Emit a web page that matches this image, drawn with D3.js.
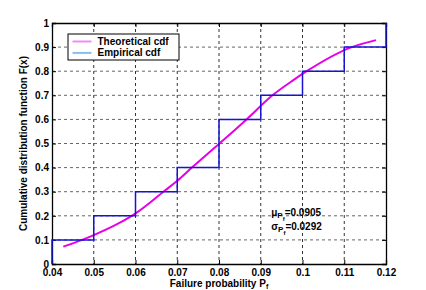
<!DOCTYPE html>
<html>
<head>
<meta charset="utf-8">
<script src="https://cdn.jsdelivr.net/npm/d3@7"></script>
<style>
  body { margin: 0; background: #fff; }
  svg { display: block; font-family: "Liberation Sans", Arial, sans-serif; font-weight: bold; }
  .tick-label { font-size: 10px; fill: #000; }
</style>
</head>
<body>
<svg id="chart" width="426" height="290"></svg>
<script>
// Empirical vs theoretical CDF of the failure probability

const xTicks = [0.04, 0.05, 0.06, 0.07, 0.08, 0.09, 0.1, 0.11, 0.12];
const yTicks = [0, 0.1, 0.2, 0.3, 0.4, 0.5, 0.6, 0.7, 0.8, 0.9, 1];
const xTickLabels = ["0.04", "0.05", "0.06", "0.07", "0.08", "0.09", "0.1", "0.11", "0.12"];
const yTickLabels = ["0", "0.1", "0.2", "0.3", "0.4", "0.5", "0.6", "0.7", "0.8", "0.9", "1"];

// step points (x, F) of empirical cdf, drawn step-after
const empiricalX = [0.04, 0.04, 0.05, 0.06, 0.07, 0.08, 0.09, 0.1, 0.11, 0.12];
const empiricalF = [0, 0.1, 0.2, 0.3, 0.4, 0.6, 0.7, 0.8, 0.9, 1.0];

// theoretical cdf
const theoryX = [0.0427, 0.0472, 0.05, 0.055, 0.0591, 0.06, 0.0667, 0.07, 0.0735, 0.0801, 0.0866, 0.0928, 0.0978, 0.101, 0.1118, 0.1176];
const theoryF = [0.072, 0.100, 0.120, 0.160, 0.200, 0.210, 0.300, 0.345, 0.400, 0.500, 0.600, 0.700, 0.763, 0.800, 0.900, 0.929];

const margin = { left: 52, right: 40, top: 23, bottom: 26 };
const W = 426, H = 290;
const width = W - margin.left - margin.right;
const height = H - margin.top - margin.bottom;

const svg = d3.select("#chart");
const g = svg.append("g").attr("transform", `translate(${margin.left},${margin.top})`);

const x = d3.scaleLinear().domain([0.04, 0.12]).range([0, width]);
const y = d3.scaleLinear().domain([0, 1]).range([height, 0]);

// grid
g.append("g")
  .selectAll("line")
  .data(xTicks.slice(1, -1))
  .join("line")
  .attr("x1", (d) => x(d)).attr("x2", (d) => x(d))
  .attr("y1", 0).attr("y2", height)
  .attr("stroke", "#333").attr("stroke-width", 1)
  .attr("stroke-dasharray", "3,3");
g.append("g")
  .selectAll("line")
  .data(yTicks.slice(1, -1))
  .join("line")
  .attr("y1", (d) => y(d)).attr("y2", (d) => y(d))
  .attr("x1", 0).attr("x2", width)
  .attr("stroke", "#666").attr("stroke-width", 1)
  .attr("stroke-dasharray", "3,3");

// axes with inward ticks on all four sides
const tickLen = 4;
const xAxisB = d3.axisBottom(x).tickValues(xTicks).tickSize(-tickLen).tickPadding(5)
  .tickFormat((d, i) => xTickLabels[i]);
const xAxisT = d3.axisTop(x).tickValues(xTicks).tickSize(-tickLen).tickFormat("");
const yAxisL = d3.axisLeft(y).tickValues(yTicks).tickSize(-tickLen).tickPadding(3)
  .tickFormat((d, i) => yTickLabels[i]);
const yAxisR = d3.axisRight(y).tickValues(yTicks).tickSize(-tickLen).tickFormat("");

function styleAxis(sel) {
  sel.select(".domain").attr("stroke", "#000").attr("stroke-width", 1.3);
  sel.selectAll(".tick line").attr("stroke", "#000");
  sel.selectAll(".tick text").attr("class", "tick-label")
    .attr("font-family", null).attr("font-size", null);
  sel.attr("font-family", null).attr("font-size", null);
}

g.append("g").attr("transform", `translate(0,${height})`).call(xAxisB).call(styleAxis);
g.append("g").call(xAxisT).call(styleAxis);
g.append("g").call(yAxisL).call(styleAxis);
g.append("g").attr("transform", `translate(${width},0)`).call(yAxisR).call(styleAxis);

// theoretical cdf
const theory = theoryX.map((v, i) => [v, theoryF[i]]);
g.append("path")
  .datum(theory)
  .attr("fill", "none")
  .attr("stroke", "#e600e6")
  .attr("stroke-width", 2)
  .attr("d", d3.line().x((d) => x(d[0])).y((d) => y(d[1])).curve(d3.curveMonotoneX));

// empirical cdf
const empirical = empiricalX.map((v, i) => [v, empiricalF[i]]);
g.append("path")
  .datum(empirical)
  .attr("fill", "none")
  .attr("stroke", "#1414d2")
  .attr("stroke-width", 1.5)
  .attr("d", d3.line().x((d) => x(d[0])).y((d) => y(d[1])).curve(d3.curveStepAfter));

// legend
const legend = g.append("g").attr("transform", "translate(16,11)");
legend.append("rect")
  .attr("width", 111).attr("height", 26)
  .attr("fill", "#fff").attr("stroke", "#000").attr("stroke-width", 1);
const legendItems = [
  { label: "Theoretical cdf", color: "#f08cf0" },
  { label: "Empirical cdf", color: "#8cbcf0" },
];
legendItems.forEach((item, i) => {
  const yy = 7.5 + i * 11.4;
  legend.append("line")
    .attr("x1", 4.5).attr("x2", 23.5).attr("y1", yy).attr("y2", yy)
    .attr("stroke", item.color).attr("stroke-width", 2);
  legend.append("text")
    .attr("x", 29.5).attr("y", yy).attr("dy", "0.35em")
    .attr("font-size", 10)
    .text(item.label);
});

// annotation
const ann = g.append("g").attr("font-size", 10);
const muText = ann.append("text").attr("x", x(0.0925)).attr("y", y(0.199));
muText.append("tspan").text("\u03bc");
muText.append("tspan").attr("dy", 2).attr("font-size", 8).text("P");
muText.append("tspan").attr("dy", 3).attr("font-size", 6).text("f");
muText.append("tspan").attr("dy", -5).text("=0.0905");
const sdText = ann.append("text").attr("x", x(0.0925)).attr("y", y(0.141));
sdText.append("tspan").text("\u03c3");
sdText.append("tspan").attr("dy", 2).attr("font-size", 8).text("P");
sdText.append("tspan").attr("dy", 3).attr("font-size", 6).text("f");
sdText.append("tspan").attr("dy", -5).text("=0.0292");

// axis titles
const xt = svg.append("text")
  .attr("x", margin.left + width / 2)
  .attr("y", 287)
  .attr("text-anchor", "middle")
  .attr("font-size", 10);
xt.append("tspan").text("Failure probability P");
xt.append("tspan").attr("dy", 2).attr("font-size", 7).text("f");

svg.append("text")
  .attr("transform", `translate(27,${margin.top + height / 2}) rotate(-90)`)
  .attr("text-anchor", "middle")
  .attr("font-size", 10)
  .text("Cumulative distribution function F(x)");
</script>
</body>
</html>
